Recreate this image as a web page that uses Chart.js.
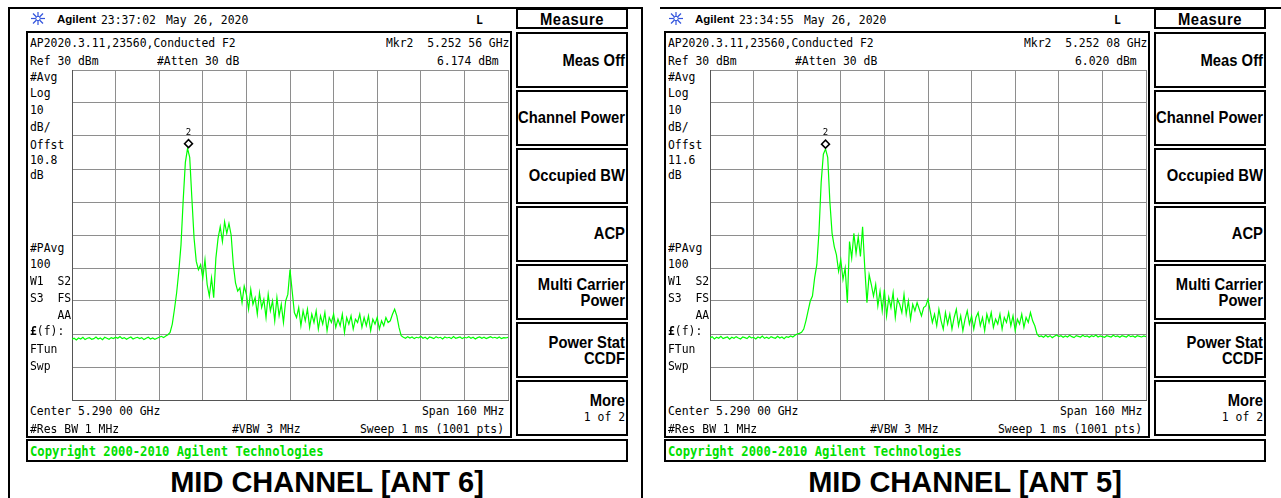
<!DOCTYPE html>
<html><head><meta charset="utf-8">
<script src="https://cdn.jsdelivr.net/npm/chart.js@4.4.1/dist/chart.umd.min.js"></script>
<style>
html,body{margin:0;padding:0;background:#fff;}
body{width:1281px;height:498px;position:relative;overflow:hidden;}
.abs{position:absolute;}
.m{position:absolute;font-family:"DejaVu Sans Mono",monospace;font-size:11.4px;line-height:14px;height:14px;white-space:pre;color:#000;transform:scaleY(1.15);transform-origin:50% 50%;}
.sk{position:absolute;width:112px;font-family:"Liberation Sans",Arial,sans-serif;font-weight:bold;font-size:14.8px;line-height:16px;height:16px;white-space:pre;text-align:right;color:#000;transform:scaleY(1.1);transform-origin:50% 50%;}
.box{position:absolute;border:2px solid #000;box-sizing:border-box;}
.ln{position:absolute;background:#000;}
.cap{position:absolute;width:600px;font-family:"Liberation Sans",Arial,sans-serif;font-weight:bold;font-size:29px;line-height:29px;white-space:pre;text-align:center;color:#000;}
.ag{position:absolute;font-family:"Liberation Sans",Arial,sans-serif;font-weight:bold;font-size:11.5px;line-height:14px;color:#000;}
</style></head>
<body>
<script>
// ---- sweep settings ----
const FREQ_START_MHZ = 5210;
const FREQ_STEP_MHZ = 0.8;      // 201 displayed samples across the 160 MHz span
const FREQ_CENTER_MHZ = 5290;
const SPAN_MHZ = 160;
const REF_LEVEL_DBM = 30;
const DB_PER_DIV = 10;

// ---- trace values (dBm) ----
const ant6TraceDbm = [
-51.6,-51.3,-51.8,-51.2,-51.5,-51.0,-51.7,-51.3,-51.1,-51.6,
-51.4,-50.9,-51.5,-51.2,-51.7,-51.0,-51.3,-51.6,-51.1,-51.4,
-51.0,-51.3,-50.8,-51.4,-51.1,-51.6,-51.2,-50.9,-51.5,-51.2,
-51.0,-51.4,-51.1,-51.7,-51.3,-51.0,-51.5,-51.2,-51.6,-51.3,
-51.0,-50.7,-51.1,-50.6,-50.2,-49.5,-47.0,-42.5,-37.5,-31.0,
-23.0,-9.5,2.0,6.17,3.5,-9.0,-21.0,-28.0,-30.5,-29.0,
-33.0,-27.5,-35.0,-38.5,-33.0,-39.0,-27.0,-21.0,-17.5,-22.0,
-16.0,-19.5,-16.5,-20.0,-29.0,-34.5,-37.0,-36.0,-40.5,-35.5,
-38.0,-42.5,-36.5,-41.0,-39.0,-44.0,-37.5,-42.0,-39.5,-45.0,
-38.0,-43.0,-40.0,-46.0,-39.0,-44.5,-41.0,-46.5,-40.0,-38.0,
-30.5,-37.0,-43.5,-45.0,-42.0,-47.5,-43.0,-46.0,-42.5,-48.0,
-44.0,-46.5,-43.0,-48.5,-44.5,-47.0,-43.5,-49.0,-45.0,-46.5,
-44.0,-48.0,-45.5,-47.5,-44.0,-49.5,-45.0,-47.0,-44.5,-48.5,
-45.5,-46.5,-44.0,-48.0,-45.0,-47.5,-44.5,-49.0,-45.5,-47.0,
-45.0,-48.5,-46.0,-47.5,-45.0,-46.5,-46.0,-44.0,-42.5,-44.5,
-48.0,-50.5,-51.0,-51.3,-50.8,-51.2,-50.9,-51.4,-51.0,-51.2,
-50.7,-51.3,-51.0,-51.5,-50.9,-51.1,-51.4,-50.8,-51.2,-51.0,
-51.5,-50.9,-51.2,-51.0,-51.4,-50.8,-51.3,-51.1,-50.9,-51.4,
-51.0,-51.2,-50.8,-51.3,-51.0,-51.5,-51.1,-50.9,-51.3,-51.0,
-51.4,-51.1,-50.8,-51.2,-51.0,-51.3,-50.9,-51.4,-51.1,-51.2,
-51.0];

const ant5TraceDbm = [
-51.2,-50.8,-51.5,-51.0,-51.3,-50.7,-51.4,-51.1,-50.9,-51.6,
-51.0,-51.3,-50.8,-51.2,-51.5,-50.9,-51.1,-51.4,-50.7,-51.2,
-51.0,-51.5,-50.9,-51.2,-50.6,-51.3,-51.0,-51.4,-50.8,-51.1,
-51.3,-50.7,-51.2,-50.9,-51.4,-50.8,-51.0,-50.6,-50.9,-50.4,
-50.0,-49.8,-49.5,-48.5,-46.0,-43.0,-40.0,-38.5,-33.0,-29.0,
-19.0,-4.0,4.5,6.02,3.5,-10.0,-19.5,-23.5,-26.0,-31.0,
-27.5,-33.5,-30.0,-40.5,-22.0,-27.0,-19.5,-25.5,-20.5,-26.5,
-17.5,-30.0,-40.5,-32.0,-35.0,-38.5,-35.0,-41.5,-37.0,-43.0,
-36.5,-44.5,-39.0,-42.0,-37.5,-45.0,-39.5,-41.0,-43.5,-38.0,
-44.0,-40.0,-45.5,-41.0,-43.0,-40.5,-42.5,-44.5,-42.0,-41.5,
-39.5,-43.0,-46.5,-44.0,-47.5,-42.5,-46.0,-48.5,-43.5,-47.0,
-44.0,-48.5,-45.0,-42.5,-47.5,-44.5,-49.0,-45.5,-43.0,-47.0,
-44.5,-48.5,-45.0,-43.5,-47.5,-45.0,-49.0,-44.0,-46.5,-43.5,
-48.0,-45.5,-47.0,-44.0,-48.5,-45.0,-46.5,-43.5,-47.5,-44.5,
-49.0,-45.5,-47.0,-44.0,-48.0,-45.0,-46.5,-43.5,-46.0,-47.5,
-50.0,-50.8,-50.6,-51.0,-50.4,-50.9,-50.5,-51.1,-50.7,-50.3,
-50.8,-50.5,-51.0,-50.6,-50.9,-50.4,-50.8,-51.1,-50.5,-50.7,
-50.9,-50.4,-50.8,-50.6,-51.0,-50.5,-50.8,-50.3,-50.9,-50.6,
-50.8,-51.0,-50.5,-50.7,-50.9,-50.4,-50.8,-50.6,-51.0,-50.5,
-50.7,-50.9,-50.4,-50.8,-50.6,-51.0,-50.5,-50.7,-50.9,-50.6,
-50.8];

const markerFreqMHz = [5252.56, 5252.08];
const markerLevelDbm = [6.174, 6.020];
const markerText = ['Mkr2  5.252 56 GHz', 'Mkr2  5.252 08 GHz'];
const markerLevelText = ['6.174 dBm', '6.020 dBm'];
const panelTimes = ['23:37:02', '23:34:55'];
const panelOffsets = ['10.8', '11.6'];
const panelCaptions = ['MID CHANNEL [ANT 6]', 'MID CHANNEL [ANT 5]'];
const softkeys = [['Meas Off'], ['Channel Power'], ['Occupied BW'], ['ACP'], ['Multi Carrier', 'Power'], ['Power Stat', 'CCDF']];

// ---- helpers ----
function add(cls, style, text, html) {
  const d = document.createElement('div');
  d.className = cls;
  Object.assign(d.style, style);
  if (html != null) d.innerHTML = html; else if (text != null) d.textContent = text;
  document.body.appendChild(d);
  return d;
}
function mono(x, cy, text, extra) { return add('m', Object.assign({left: x + 'px', top: (cy - 7) + 'px'}, extra || {}), text); }
function sk(rightX, cy, text, extra) { return add('sk', Object.assign({left: (rightX - 112) + 'px', top: (cy - 8) + 'px'}, extra || {}), text); }
function box(x, y, w, h, extra) { return add('box', Object.assign({left: x + 'px', top: y + 'px', width: w + 'px', height: h + 'px'}, extra || {})); }
function ln(x, y, w, h) { return add('ln', {left: x + 'px', top: y + 'px', width: w + 'px', height: h + 'px'}); }

// page frame lines
ln(8, 7, 2, 491);
ln(8, 7, 634, 2);
ln(641, 7, 2, 491);
ln(660, 7, 621, 2);

function markerPlugin(mx, my) {
  return {
    id: 'mkr',
    afterDatasetsDraw(chart) {
      const c = chart.ctx;
      const px = Math.round(chart.scales.x.getPixelForValue(mx)) + 0.5;
      const py = chart.scales.y.getPixelForValue(my) - 5;
      c.save();
      c.beginPath();
      c.moveTo(px, py - 4); c.lineTo(px + 4, py); c.lineTo(px, py + 4); c.lineTo(px - 4, py); c.closePath();
      c.fillStyle = '#fff'; c.fill();
      c.strokeStyle = '#000'; c.lineWidth = 1.5; c.stroke();
      c.fillStyle = '#000';
      c.font = '9px "DejaVu Sans Mono", monospace';
      c.textAlign = 'center'; c.textBaseline = 'middle';
      c.fillText('2', px, py - 11);
      c.restore();
    }
  };
}

function makeChart(dx, trace, mkrF, mkrL) {
  const wrap = add('abs', {left: (71 + dx) + 'px', top: '69px', width: '438px', height: '332px'});
  const cv = document.createElement('canvas');
  cv.width = 438; cv.height = 332;
  cv.style.width = '438px'; cv.style.height = '332px';
  wrap.appendChild(cv);
  const pts = trace.map((v, i) => ({x: FREQ_START_MHZ + i * FREQ_STEP_MHZ - FREQ_CENTER_MHZ, y: v}));
  const gridOpt = {color: '#8e8e8e', lineWidth: 1, drawTicks: false};
  new Chart(cv, {
    type: 'line',
    data: {datasets: [{data: pts, borderColor: '#00ff00', borderWidth: 1.2, pointRadius: 0, tension: 0, fill: false}]},
    options: {
      responsive: false, animation: false, events: [],
      layout: {padding: 1},
      plugins: {legend: {display: false}, tooltip: {enabled: false}},
      scales: {
        x: {type: 'linear', min: -SPAN_MHZ / 2, max: SPAN_MHZ / 2,
            ticks: {display: false, stepSize: SPAN_MHZ / 10}, grid: gridOpt,
            border: {display: true, color: '#555', width: 1}},
        y: {type: 'linear', min: REF_LEVEL_DBM - 10 * DB_PER_DIV, max: REF_LEVEL_DBM,
            ticks: {display: false, stepSize: DB_PER_DIV}, grid: gridOpt,
            border: {display: true, color: '#555', width: 1}}
      }
    },
    plugins: [markerPlugin(mkrF - FREQ_CENTER_MHZ, mkrL)]
  });
}

function panel(k, dx, trace) {
  // header
  add('abs', {left: (30 + dx) + 'px', top: '11px', width: '16px', height: '15px'}, null,
    '<svg width="16" height="15" viewBox="0 0 16 15"><g stroke="#3355dd" stroke-width="1.2" fill="none">' +
    '<line x1="8" y1="1" x2="8" y2="14"/><line x1="1" y1="7.5" x2="15" y2="7.5"/>' +
    '<line x1="3" y1="2.5" x2="13" y2="12.5"/><line x1="13" y1="2.5" x2="3" y2="12.5"/></g>' +
    '<circle cx="8" cy="7.5" r="2.2" fill="#fff" stroke="#3355dd" stroke-width="1"/></svg>');
  add('ag', {left: (57 + dx) + 'px', top: '11.6px'}, 'Agilent');
  mono(101 + dx, 19, panelTimes[k]);
  mono(166 + dx, 19, 'May 26, 2020');
  mono(476 + dx, 19, 'L', {fontWeight: 'bold'});

  // screen frame
  box(26 + dx, 31, 486, 407);
  makeChart(dx, trace, markerFreqMHz[k], markerLevelDbm[k]);

  mono(30 + dx, 42, 'AP2020.3.11,23560,Conducted F2');
  mono(386 + dx, 42, markerText[k]);
  mono(30 + dx, 59.5, 'Ref 30 dBm');
  mono(157 + dx, 59.5, '#Atten 30 dB');
  mono(437 + dx, 59.5, markerLevelText[k]);

  const left = [['#Avg', 75.5], ['Log', 92], ['10', 109], ['dB/', 125.5], ['Offst', 143.8],
    [panelOffsets[k], 158.8], ['dB', 173.7], ['#PAvg', 246.7], ['100', 263.3], ['W1  S2', 280],
    ['S3  FS', 296.7], ['    AA', 313.8], ['FTun', 348.3], ['Swp', 365]];
  left.forEach(([t, cy]) => mono(30 + dx, cy, t));
  const lf = mono(30 + dx, 330.3, '');
  lf.innerHTML = '<b>£</b>(f):';

  mono(30 + dx, 410, 'Center 5.290 00 GHz');
  mono(422 + dx, 410, 'Span 160 MHz');
  mono(30 + dx, 428.3, '#Res BW 1 MHz');
  mono(232 + dx, 428.3, '#VBW 3 MHz');
  mono(360 + dx, 428.3, 'Sweep 1 ms (1001 pts)');

  // copyright bar
  box(26 + dx, 439, 602, 23);
  mono(30 + dx, 451, 'Copyright 2000-2010 Agilent Technologies', {fontWeight: 'bold', color: '#00e000', fontSize: '12.2px'});

  // softkeys
  box(516 + dx, 8, 112, 21);
  add('sk', {left: (516 + dx) + 'px', top: (19 - 8) + 'px', textAlign: 'center', letterSpacing: '0.6px'}, 'Measure');
  for (let j = 0; j < 7; j++) box(516 + dx, 32 + j * 58, 112, 56);
  const centers = [60, 118, 176, 234, 292, 350];
  softkeys.forEach((lab, j) => {
    if (lab.length === 1) sk(625 + dx, centers[j], lab[0]);
    else { sk(625 + dx, centers[j] - 8, lab[0]); sk(625 + dx, centers[j] + 8, lab[1]); }
  });
  sk(625 + dx, 400, 'More');
  const of2 = mono(0, 416, '1 of 2');
  of2.style.left = 'auto';
  of2.style.right = (1281 - 625 - dx) + 'px';

  // caption
  add('cap', {left: (327 + dx - 300) + 'px', top: '468px'}, panelCaptions[k]);
}

panel(0, 0, ant6TraceDbm);
panel(1, 638, ant5TraceDbm);
</script>
</body></html>
